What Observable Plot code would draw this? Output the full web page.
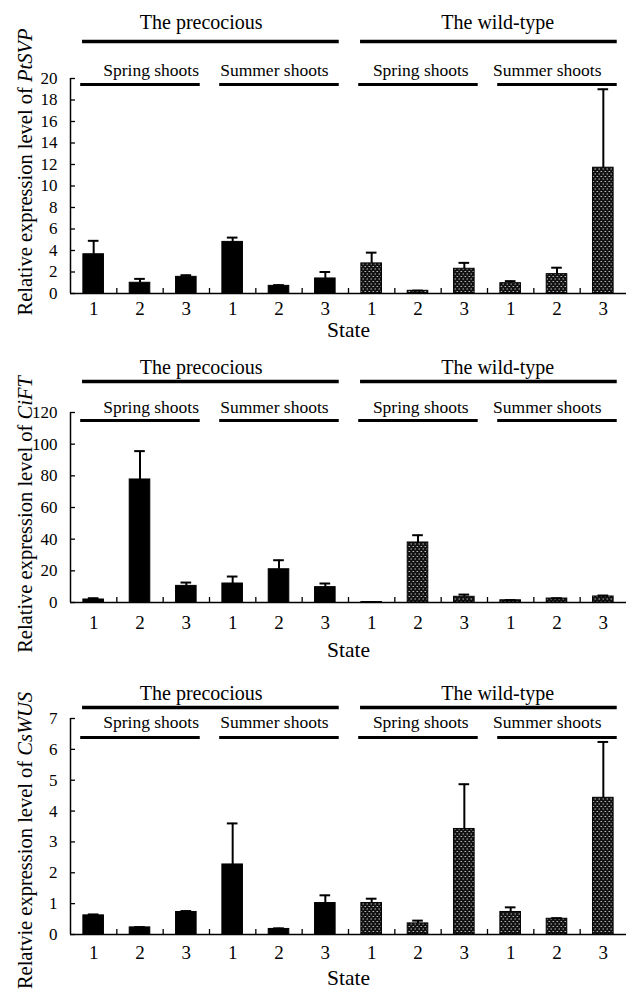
<!DOCTYPE html>
<html><head><meta charset="utf-8">
<script src="https://cdn.jsdelivr.net/npm/d3@7"></script>
<script src="https://cdn.jsdelivr.net/npm/@observablehq/plot@0.6"></script>
<style>
body{margin:0;background:#fff;}
#root{position:relative;width:630px;height:990px;overflow:hidden;background:#fff;}
#root svg{position:absolute;left:0;}
#root svg text{font-family:"Liberation Serif","Times New Roman",Times,serif !important;}
</style></head><body><div id="root"></div>
<script>
// ---------- data ----------
const states = ["1", "2", "3"];
const genotypes = ["The precocious", "The wild-type"];
const seasons = ["Spring shoots", "Summer shoots"];
const genes = ["PtSVP", "CiFT", "CsWUS"];
const titlePrefixes = ["Relative expression level of ", "Relative expression level of ", "Relatvie expression level of "];
const xTitle = "State";

const yTicksSVP = [0, 2, 4, 6, 8, 10, 12, 14, 16, 18, 20];
const yTicksFT = [0, 20, 40, 60, 80, 100, 120];
const yTicksWUS = [0, 1, 2, 3, 4, 5, 6, 7];

// order: spring 1,2,3 then summer 1,2,3
const svpPrecocious = [3.65, 1.0, 1.55, 4.8, 0.71, 1.4];
const svpPrecociousErr = [1.25, 0.36, 0.15, 0.4, 0.07, 0.6];
const svpWild = [2.8, 0.25, 2.3, 0.96, 1.8, 11.7];
const svpWildErr = [1.0, 0.02, 0.55, 0.19, 0.6, 7.3];

const ftPrecocious = [1.9, 77.7, 10.5, 12.0, 21.0, 9.7];
const ftPrecociousErr = [0.8, 17.9, 2.1, 4.4, 5.7, 2.3];
const ftWild = [0.3, 37.9, 3.6, 1.4, 2.5, 3.8];
const ftWildErr = [0.0, 4.6, 1.4, 0.1, 0.2, 0.6];

const wusPrecocious = [0.62, 0.23, 0.73, 2.27, 0.18, 1.02];
const wusPrecociousErr = [0.03, 0.01, 0.03, 1.33, 0.02, 0.25];
const wusWild = [1.02, 0.36, 3.42, 0.73, 0.51, 4.43];
const wusWildErr = [0.14, 0.09, 1.45, 0.15, 0.02, 1.81];

// ---------- layout ----------
const panels = [
  {ticks: yTicksSVP, series: [[svpPrecocious, svpPrecociousErr], [svpWild, svpWildErr]],
   top: 0, height: 340, mt: 78, mb: 47, head: [-56, -37, -8, 6], tickDy: 15, stateDy: 37, titleDy: -14},
  {ticks: yTicksFT, series: [[ftPrecocious, ftPrecociousErr], [ftWild, ftWildErr]],
   top: 340, height: 320, mt: 72, mb: 58, head: [-45, -31, -5, 8], tickDy: 20, stateDy: 48, titleDy: 7},
  {ticks: yTicksWUS, series: [[wusPrecocious, wusPrecociousErr], [wusWild, wusWildErr]],
   top: 660, height: 330, mt: 58, mb: 56, head: [-25, -11, 4, 19], tickDy: 18, stateDy: 44, titleDy: 14}
];
const mainNudge = [-0.18, 0.22];
const subNudge = [0.24, -0.1, 0.06, -0.21];
const font = "Liberation Serif";
const W = 630, ML = 70, MR = 4;
const root = document.getElementById("root");

panels.forEach((P, p) => {
  const ymax = d3.max(P.ticks);
  const rows = [];
  P.series.forEach(([vals, errs], g) => {
    vals.forEach((v, k) => {
      rows.push({i: g * 6 + k + 1, g, v, e: errs[k], state: states[k % 3]});
    });
  });
  const mains = genotypes.map((label, g) => ({label, first: g * 6 + 1, last: g * 6 + 6, nudge: mainNudge[g]}));
  const subs = [];
  genotypes.forEach((_, g) => seasons.forEach((label, s) => {
    const first = g * 6 + s * 3 + 1;
    subs.push({label, first, last: first + 2, nudge: subNudge[subs.length]});
  }));
  const boundaries = d3.range(1.5, 12, 1);
  const fh = P.height - P.mt - P.mb;
  const fw = W - ML - MR;
  const fill = "url(#dots" + p + ")";
  const fullTitle = titlePrefixes[p] + genes[p];
  const T = {fontFamily: font, lineAnchor: "middle", textAnchor: "middle", fill: "black"};

  const chart = Plot.plot({
    width: W, height: P.height,
    marginLeft: ML, marginRight: MR, marginTop: P.mt, marginBottom: P.mb,
    style: {fontFamily: font, color: "black", background: "transparent", overflow: "visible"},
    x: {domain: [0.5, 12.5], axis: null},
    y: {domain: [0, ymax], axis: null},
    marks: [
      Plot.axisY({ticks: P.ticks, tickFormat: d => String(d), tickSize: 0, tickPadding: 13, fontSize: 17,
        fontFamily: font, label: null}),
      Plot.ruleY(P.ticks, {insetRight: fw - 5, strokeWidth: 1.3}),
      Plot.ruleX([0.5], {y1: 0, y2: ymax, strokeWidth: 1.5}),
      Plot.ruleX(boundaries, {insetTop: fh - 5, strokeWidth: 1.3}),
      Plot.rect(rows, {x1: d => d.i - 0.222, x2: d => d.i + 0.222, y1: 0, y2: "v",
        fill: d => d.g ? fill : "black", stroke: "black", strokeWidth: 1}),
      Plot.ruleX(rows, {x: "i", y1: "v", y2: d => d.v + d.e, strokeWidth: 2}),
      Plot.ruleY(rows, {x1: d => d.i - 0.115, x2: d => d.i + 0.115, y: d => d.v + d.e, strokeWidth: 2}),
      Plot.ruleY([0], {x1: 0.5, x2: 12.5, strokeWidth: 1.5}),
      Plot.text(rows, {...T, x: "i", text: "state", frameAnchor: "bottom", dy: P.tickDy, fontSize: 19}),
      Plot.text([xTitle], {...T, frameAnchor: "bottom", dy: P.stateDy, fontSize: 21.5}),
      Plot.text(mains, {...T, x: d => (d.first + d.last) / 2 + d.nudge, text: "label", frameAnchor: "top", dy: P.head[0], fontSize: 20}),
      Plot.ruleY(mains, {x1: d => d.first - 0.24, x2: d => d.last + 0.3, y: () => ymax, dy: P.head[1], strokeWidth: 3.5}),
      Plot.text(subs, {...T, x: d => (d.first + d.last) / 2 + d.nudge, text: "label", frameAnchor: "top", dy: P.head[2], fontSize: 17.5}),
      Plot.ruleY(subs, {x1: d => d.first - 0.28, x2: d => d.last + 0.3, y: () => ymax, dy: P.head[3], strokeWidth: 3}),
      Plot.text([fullTitle], {...T, frameAnchor: "left", dx: -45, dy: P.titleDy, rotate: -90, fontSize: 20.5})
    ]
  });

  const svg = d3.select(chart);
  const defs = svg.insert("defs", ":first-child");
  const pat = defs.append("pattern").attr("id", "dots" + p)
    .attr("patternUnits", "userSpaceOnUse").attr("width", 4).attr("height", 5);
  pat.append("rect").attr("width", 4).attr("height", 5).attr("fill", "#111");
  pat.append("rect").attr("x", 0.5).attr("y", 1).attr("width", 1.6).attr("height", 1).attr("fill", "#b8b8b8");
  pat.append("rect").attr("x", 2.5).attr("y", 3.5).attr("width", 1.6).attr("height", 1).attr("fill", "#b8b8b8");

  svg.selectAll("text").filter(function () { return this.textContent === fullTitle; }).each(function () {
    const t = d3.select(this);
    t.text(null);
    t.append("tspan").text(titlePrefixes[p]);
    t.append("tspan").attr("font-style", "italic").text(genes[p]);
  });

  chart.style.top = P.top + "px";
  chart.style.position = "absolute";
  root.appendChild(chart);
});
</script>
</body></html>
